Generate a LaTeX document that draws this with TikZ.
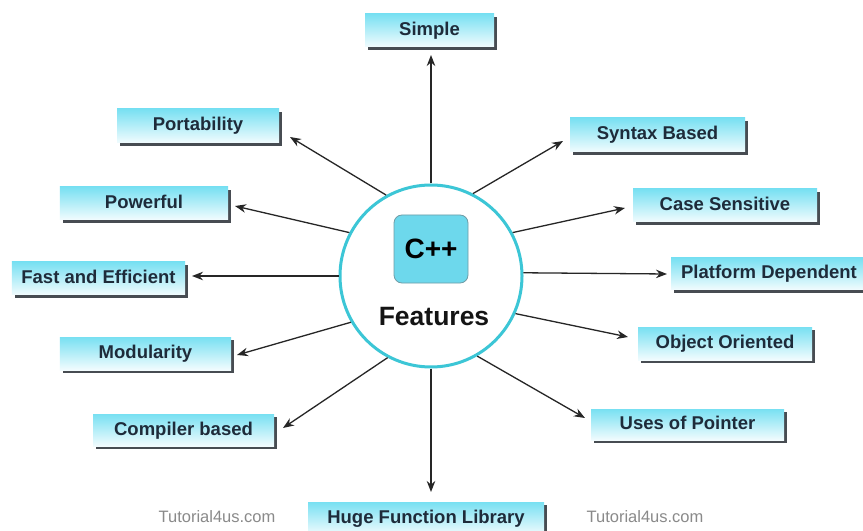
\documentclass[tikz,border=0pt]{standalone}
\usepackage{fontspec}
\setmainfont{Liberation Sans}
\usetikzlibrary{arrows.meta,shadows}
\definecolor{boxtop}{HTML}{78E0F2}
\definecolor{boxbot}{HTML}{F2FCFE}
\definecolor{shade}{HTML}{474C52}
\definecolor{labelink}{HTML}{1E2B3A}
\definecolor{ringcyan}{HTML}{3CC6D6}
\definecolor{corefill}{HTML}{6DD8EC}
\definecolor{coreedge}{HTML}{6F9CA6}
\definecolor{markgray}{HTML}{8A8A8A}
\definecolor{linkink}{HTML}{262626}

\begin{document}
\begin{tikzpicture}[x=1bp,y=-1bp,
  feat/.style={rectangle, top color=boxtop, bottom color=boxbot,
    minimum height=33bp, inner sep=0pt, text=labelink,
    font=\fontsize{18.5bp}{20bp}\selectfont\bfseries,
    text height=14bp, text depth=4bp,
    general shadow={fill=shade, shadow xshift=3bp, shadow yshift=-3bp}},
  link/.style={draw=linkink, line width=1.3bp,
    -{Stealth[length=11bp,width=8.5bp]}},
  sitemark/.style={text=markgray, font=\fontsize{16.5bp}{18bp}\selectfont}
]
\useasboundingbox (0,0) rectangle (863,531);
\clip (0,0) rectangle (863,531);
\fill[white] (0,0) rectangle (863,531);

% central hub
\node[circle, draw=ringcyan, line width=3bp, fill=white,
      minimum size=182bp, inner sep=0pt] (hub) at (431,276) {};
\node[rounded corners=8bp, fill=corefill, draw=coreedge, line width=0.8bp,
      minimum width=74bp, minimum height=68bp, inner sep=0pt,
      font=\fontsize{28bp}{30bp}\selectfont\bfseries] (core) at (431,249) {C++};
\node[font=\fontsize{26.5bp}{28bp}\selectfont\bfseries, text=black!92]
      (ftitle) at (434,317) {Features};

% feature boxes
\node[feat, minimum width=129bp] (simple)   at (429.5,30.5) {Simple};
\node[feat, minimum width=162bp, minimum height=34bp] (port) at (198,126) {Portability};
\node[feat, minimum width=175bp, minimum height=34bp] (syntax) at (657.5,135) {Syntax Based};
\node[feat, minimum width=168bp] (power)    at (144,203.5) {Powerful};
\node[feat, minimum width=184bp] (casesens) at (725,205.5) {Case Sensitive};
\node[feat, minimum width=173bp] (fast)     at (98.5,278.5) {Fast and Efficient};
\node[feat, minimum width=196bp, minimum height=32bp] (platform) at (769,274) {Platform Dependent};
\node[feat, minimum width=171bp] (modular)  at (145.5,353.5) {Modularity};
\node[feat, minimum width=174bp] (objor)    at (725,343.5) {Object Oriented};
\node[feat, minimum width=181bp, minimum height=32bp] (compiler) at (183.5,430) {Compiler based};
\node[feat, minimum width=193bp, minimum height=31bp] (pointer)  at (687.5,424.5) {Uses of Pointer};
\node[feat, minimum width=236bp] (library)  at (426,518.5) {Huge Function Library};

% arrow tips, just short of each box
\coordinate (tSimple)   at (431,55);
\coordinate (tPort)     at (290,137);
\coordinate (tSyntax)   at (563,141);
\coordinate (tPower)    at (235,206);
\coordinate (tCase)     at (625,208);
\coordinate (tFast)     at (192,276);
\coordinate (tPlatform) at (667,274);
\coordinate (tModular)  at (237,355);
\coordinate (tObj)      at (628,337);
\coordinate (tCompiler) at (283,428);
\coordinate (tPointer)  at (585,418);
\coordinate (tLibrary)  at (431,492);

\draw[link] (hub.90)  -- (tSimple);
\draw[link] (hub.119) -- (tPort);
\draw[link] (hub.63)  -- (tSyntax);
\draw[link] (hub.152) -- (tPower);
\draw[link] (hub.28)  -- (tCase);
\draw[link] (hub.180) -- (tFast);
\draw[link] (hub.2)   -- (tPlatform);
\draw[link] (hub.210) -- (tModular);
\draw[link] (hub.336) -- (tObj);
\draw[link] (hub.242) -- (tCompiler);
\draw[link] (hub.300) -- (tPointer);
\draw[link] (hub.270) -- (tLibrary);

% site marks
\node[sitemark] (wm1) at (217,517) {Tutorial4us.com};
\node[sitemark] (wm2) at (645,517) {Tutorial4us.com};
\end{tikzpicture}
\end{document}
